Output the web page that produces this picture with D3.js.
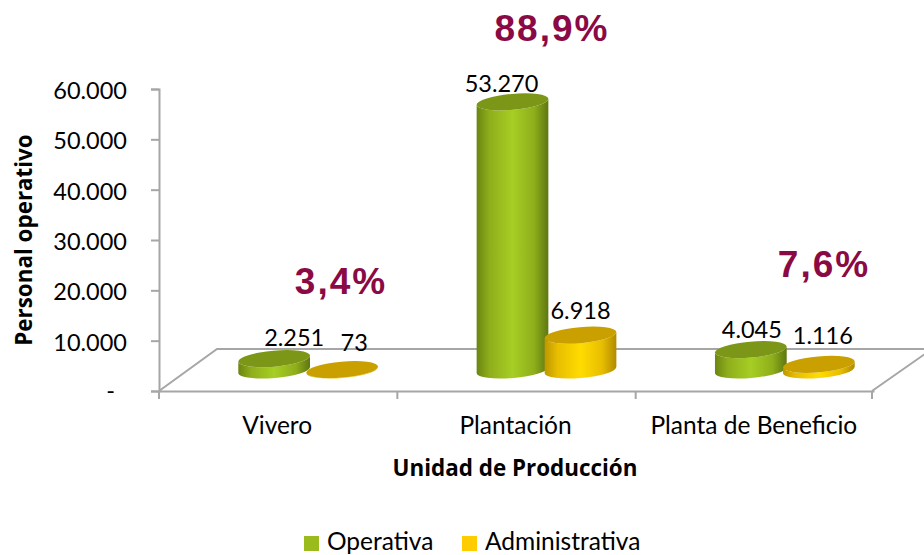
<!DOCTYPE html>
<html><head><meta charset="utf-8">
<script src="https://cdn.jsdelivr.net/npm/d3@7"></script>
<style>html,body{margin:0;background:#fff}svg{display:block}</style></head>
<body><svg id="c" width="924" height="555"></svg>
<script>
const categories = ["Vivero", "Plantación", "Planta de Beneficio"];
const seriesNames = ["Operativa", "Administrativa"];
const operativa = [2251, 53270, 4045];
const administrativa = [73, 6918, 1116];
const shares = ["3,4%", "88,9%", "7,6%"];
const yTicks = [0, 10000, 20000, 30000, 40000, 50000, 60000];

const W = 924, H = 555;
const font = "Lato,'Open Sans',sans-serif";
const boldFont = "'Open Sans','Noto Sans',sans-serif";
const fs = 23.5, catFs = 24.5;
const svg = d3.select("#c").attr("viewBox", [0,0,W,H]);
const plot = {l:159, r:874, t:89, b:391};
const depth = {x:58, y:-42};
const x = d3.scaleBand().domain(categories).range([plot.l, plot.r]);
const sx = d3.scaleBand().domain(seriesNames).range([-68, 68]);
const y = d3.scaleLinear().domain([0,60000]).range([plot.b, plot.t]);
const num = d3.formatLocale({decimal:",",thousands:".",grouping:[3],currency:["",""]}).format(",d");
const colors = {
  Operativa:{swatch:"#9BBB1C", top:"#7C9717", stops:["#6B8512","#8FAE1B","#A6CE24","#8FAE1B","#5F7710"]},
  Administrativa:{swatch:"#FFCC00", top:"#C9A000", stops:["#BE9700","#E8BE00","#FFDC00","#E8BE00","#B08B00"]}
};
const defs = svg.append("defs");
seriesNames.forEach(s=>{
  const g = defs.append("linearGradient").attr("id","g"+s);
  [0,.18,.5,.8,1].forEach((o,i)=>g.append("stop").attr("offset",o).attr("stop-color",colors[s].stops[i]));
});

// floor
const gray = "#A6A6A6";
const floor = svg.append("g").attr("fill","none").attr("stroke",gray).attr("stroke-width",2);
floor.append("path").attr("d",d3.line()([[plot.l,plot.b],[plot.l+depth.x,plot.b+depth.y],[plot.r+depth.x,plot.b+depth.y],[plot.r-2,plot.b]]));

// axes
const ax = svg.append("g").attr("transform",`translate(${plot.l},0)`)
  .call(d3.axisLeft(y).tickValues(yTicks).tickSize(8).tickPadding(24).tickFormat(d=>d===0?"-":num(d)));
ax.selectAll("path,line").attr("stroke",gray).attr("stroke-width",2);
ax.selectAll("text").attr("font-family",font).attr("font-size",fs).attr("fill","#000")
  .attr("dx",d=>d===0?-12:0).attr("dy",d=>d===0?"0.3em":"0.4em");
const bx = svg.append("g").attr("transform",`translate(0,${plot.b})`)
  .call(d3.axisBottom(x).tickSize(0).tickPadding(26));
bx.selectAll("path").attr("stroke",gray).attr("stroke-width",2);
bx.selectAll("text").attr("font-family",font).attr("font-size",catFs).attr("fill","#000").attr("dx",-1);
bx.selectAll("line").remove();
const edges = x.domain().map(d=>x(d)).concat(plot.r-2);
bx.selectAll("line.t").data(edges).join("line").attr("class","t").attr("x1",d=>d).attr("x2",d=>d).attr("y1",0).attr("y2",8).attr("stroke",gray).attr("stroke-width",2);

// cylinders
const rx = 36, ry = 8, tilt = -5;
const th = tilt*Math.PI/180;
const baseY = plot.b + depth.y/2;
const ox = depth.x/2 + 1;
const rows = [];
categories.forEach((c,i)=>{
  rows.push({c,s:"Operativa",v:operativa[i]});
  rows.push({c,s:"Administrativa",v:administrativa[i]});
});
const cx = d=>x(d.c)+x.bandwidth()/2+ox+sx(d.s)+sx.bandwidth()/2;
const g = svg.append("g");
rows.forEach(d=>{
  const c = cx(d), h = y(0)-y(d.v), yb = baseY, yt = baseY-h;
  const dx = rx*Math.cos(th), dy = rx*Math.sin(th);
  const body = `M${c-dx},${yt-dy}L${c-dx},${yb-dy}A${rx},${ry} ${tilt} 0 0 ${c+dx},${yb+dy}L${c+dx},${yt+dy}A${rx},${ry} ${tilt} 0 1 ${c-dx},${yt-dy}Z`;
  g.append("path").attr("d",body).attr("fill",`url(#g${d.s})`);
  g.append("ellipse").attr("cx",c).attr("cy",yt).attr("rx",rx).attr("ry",ry)
    .attr("transform",`rotate(${tilt} ${c} ${yt})`).attr("fill",colors[d.s].top);
});

// value labels (hand-placed in the original, hence per-label nudges)
const labelNudgeX = [20,12,-11,0,1,4];
const labelGap = [21,27,18,24,20,29];
svg.append("g").selectAll("text").data(rows).join("text")
  .attr("x",(d,i)=>cx(d)+labelNudgeX[i])
  .attr("y",(d,i)=>y(d.v)+depth.y/2-labelGap[i])
  .attr("dy","0.35em").attr("text-anchor","middle")
  .attr("font-family",font).attr("font-size",fs).attr("fill","#000")
  .text(d=>num(d.v));

// share annotations
const shareX = [341,552,824], shareY = [281,28,264];
svg.append("g").selectAll("text").data(shares).join("text")
  .attr("x",(d,i)=>shareX[i]).attr("y",(d,i)=>shareY[i]).attr("dy","0.36em")
  .attr("text-anchor","middle").attr("font-family","'Liberation Sans',Arial,sans-serif")
  .attr("font-weight","bold").attr("font-size",37).attr("letter-spacing",2).attr("fill","#8A0A45")
  .text(d=>d);

// titles
svg.append("text").attr("transform","translate(24,240) rotate(-90)").attr("text-anchor","middle").attr("dy","0.35em")
  .attr("font-family",boldFont).attr("font-weight","bold").attr("font-size",22.4).text("Personal operativo");
svg.append("text").attr("x",515).attr("y",468).attr("text-anchor","middle").attr("dy","0.35em")
  .attr("font-family",boldFont).attr("font-weight","bold").attr("font-size",22.4).text("Unidad de Producción");

// legend
const legendX = [304,462];
const lg = svg.append("g").selectAll("g").data(seriesNames).join("g").attr("transform",(d,i)=>`translate(${legendX[i]},536)`);
lg.append("rect").attr("width",15).attr("height",15).attr("fill",d=>colors[d].swatch);
lg.append("text").attr("x",23).attr("y",13.5).attr("font-family",font).attr("font-size",24.5).text(d=>d);
</script></body></html>
